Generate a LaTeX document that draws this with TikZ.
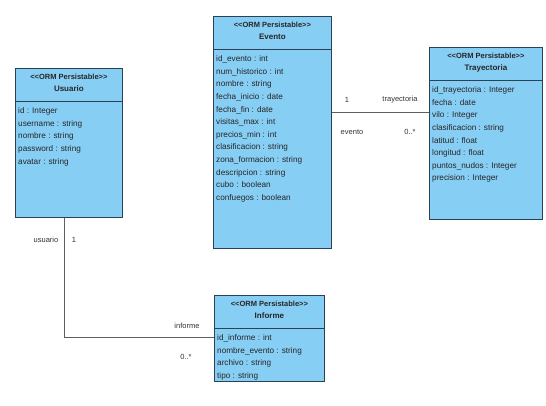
\documentclass[tikz,border=0pt]{standalone}
\usepackage{fontspec}
\setmainfont{Liberation Sans}
\usetikzlibrary{calc}
\definecolor{boxfill}{RGB}{135,206,245}
\definecolor{boxline}{RGB}{45,65,85}
\definecolor{linkline}{RGB}{95,95,95}
\newcommand\umlclass[7]{%
  \node[classbox, minimum width=#4pt, minimum height=#5pt, anchor=north west] (#1) at (#2,#3) {};
  \node[stereo] (#1-st) at ($(#1.north)+(0,8.5)$) {<{}<ORM Persistable>{}>};
  \node[cname] (#1-nm) at ($(#1.north)+(0,21)$) {#6};
  \draw[sepline] ($(#1.north west)+(0,33)$) -- ($(#1.north east)+(0,33)$);
  \node[attrs] (#1-at) at ($(#1.north west)+(3,39.5)$) {#7};
}
\begin{document}
\begin{tikzpicture}[x=1pt,y=-1pt,
  classbox/.style={draw=boxline, fill=boxfill, line width=0.8pt, inner sep=0pt},
  stereo/.style={font=\bfseries\fontsize{7.5}{9}\selectfont, inner sep=0pt, text=black!85},
  cname/.style={font=\bfseries\fontsize{8}{9}\selectfont, inner sep=0pt, text=black!85},
  sepline/.style={draw=boxline, line width=0.7pt},
  attrs/.style={font=\fontsize{8.2}{12.6}\selectfont, align=left, anchor=north west, inner sep=0pt, text=black!85},
  assoc/.style={draw=linkline, line width=0.7pt},
  lbl/.style={font=\fontsize{7.5}{9}\selectfont, inner sep=0pt, text=black!80}]
\useasboundingbox (0,0) rectangle (546,406);
\fill[white] (0,0) rectangle (546,406);

\umlclass{usuario}{15}{68}{107}{149}{Usuario}{id : Integer\\username : string\\nombre : string\\password : string\\avatar : string}
\umlclass{evento}{213}{16}{118}{232}{Evento}{id\_evento : int\\num\_historico : int\\nombre : string\\fecha\_inicio : date\\fecha\_fin : date\\visitas\_max : int\\precios\_min : int\\clasificacion : string\\zona\_formacion : string\\descripcion : string\\cubo : boolean\\confuegos : boolean}
\umlclass{trayectoria}{429}{47}{113}{172}{Trayectoria}{id\_trayectoria : Integer\\fecha : date\\vilo : Integer\\clasificacion : string\\latitud : float\\longitud : float\\puntos\_nudos : Integer\\precision : Integer}
\umlclass{informe}{214}{295}{110}{86}{Informe}{id\_informe : int\\nombre\_evento : string\\archivo : string\\tipo : string}

\coordinate (ety) at (0,112);
\coordinate (ux) at (64,0);
\coordinate (iy) at (0,337);
\draw[assoc] (evento.east |- ety) -- (trayectoria.west |- ety);
\draw[assoc] (usuario.south -| ux) |- (informe.west |- iy);

\node[lbl] (m1) at (347,100) {1};
\node[lbl] (r1) at (400,100) {trayectoria};
\node[lbl] (r2) at (352,132) {evento};
\node[lbl] (m2) at (410,132) {0..*};
\node[lbl] (r3) at (46,240) {usuario};
\node[lbl] (m3) at (74,240) {1};
\node[lbl] (r4) at (187,326) {informe};
\node[lbl] (m4) at (186,357) {0..*};
\end{tikzpicture}
\end{document}
